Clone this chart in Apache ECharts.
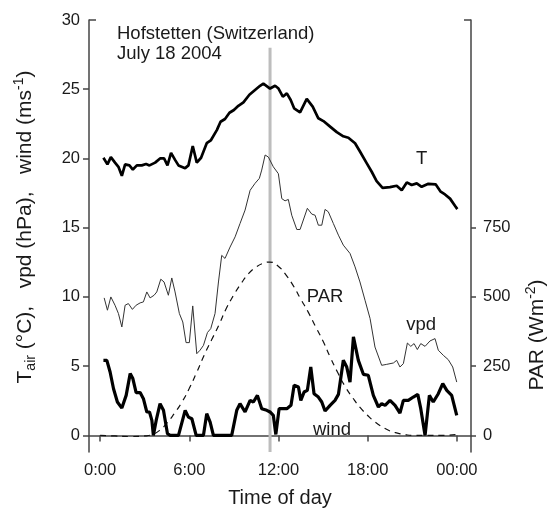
<!DOCTYPE html>
<html>
<head>
<meta charset="utf-8">
<script src="https://cdn.jsdelivr.net/npm/echarts@6/dist/echarts.min.js"></script>
<style>
html,body{margin:0;padding:0;background:#fff;}
#chart{width:551px;height:509px;}
</style>
</head>
<body>
<div id="chart"></div>
<script>
// ---- data (hours of day, values) ----
const tHours = [0.22,0.49,0.72,1.0,1.23,1.46,1.68,1.97,2.2,2.47,2.8,3.09,3.32,3.7,4.03,4.3,4.53,4.77,5.04,5.27,5.72,5.94,6.23,6.5,6.79,7.17,7.44,7.85,8.1,8.4,8.7,9.0,9.3,9.64,10.04,10.42,10.76,10.98,11.43,11.77,12.0,12.29,12.56,12.82,13.05,13.45,13.9,14.3,14.68,15.02,15.47,15.92,16.36,16.7,17.15,17.48,17.94,18.27,18.6,19.0,19.5,19.95,20.29,20.63,20.96,21.3,21.63,22.08,22.57,22.91,23.2,23.54,23.87,24.03];
const tValues = [20.05,19.57,20.1,19.7,19.4,18.75,19.57,19.5,19.2,19.5,19.5,19.6,19.5,19.7,20.0,20.0,19.5,20.4,19.9,19.5,19.3,19.5,20.9,19.7,20.05,21.1,21.3,22.05,22.65,22.85,23.3,23.5,23.8,24.05,24.6,24.95,25.25,25.4,25.05,25.25,25.05,24.46,24.7,24.22,23.62,23.33,24.3,23.74,22.9,22.7,22.3,21.9,21.6,21.5,21.1,20.5,19.65,19.04,18.37,17.88,17.93,18.03,17.7,18.27,18.08,18.2,17.95,18.17,18.13,17.6,17.4,17.1,16.58,16.34];

const vpdHours = [0.27,0.49,0.72,1.0,1.23,1.46,1.68,1.9,2.17,2.42,2.69,2.91,3.14,3.36,3.63,3.81,4.08,4.3,4.59,4.82,5.04,5.33,5.56,5.78,6.0,6.23,6.5,6.72,6.95,7.22,7.44,7.73,7.96,8.18,8.4,8.74,9.08,9.41,9.75,10.09,10.42,10.71,10.87,11.1,11.32,11.65,11.99,12.22,12.44,12.66,12.89,13.23,13.45,13.94,14.24,14.46,14.68,14.91,15.13,15.35,15.69,16.03,16.36,16.81,17.15,17.48,17.82,18.16,18.49,18.94,19.28,19.73,19.95,20.17,20.4,20.67,20.9,21.12,21.34,21.57,21.86,22.19,22.53,22.75,23.09,23.42,23.72,23.99];
const vpdValues = [9.93,9.04,10.0,9.4,8.8,7.83,9.4,9.52,9.1,9.4,9.57,9.64,10.36,9.93,10.12,10.36,11.28,11.08,10.12,11.37,10.36,8.8,8.19,6.7,6.7,9.35,5.9,6.15,6.5,7.43,7.71,8.8,11.08,13.0,12.78,13.6,14.34,15.3,16.27,17.7,18.2,18.56,19.16,20.25,20.1,19.4,18.9,17.1,16.94,17.04,15.9,14.87,14.87,16.4,15.98,15.9,15.18,15.18,16.32,16.15,15.3,14.46,13.74,13.14,12.17,11.08,9.76,8.44,6.38,5.06,5.13,5.23,5.42,4.94,5.18,6.67,6.43,6.63,6.2,6.63,6.43,6.82,6.99,6.15,5.78,5.47,4.94,3.85];

const windHours = [0.22,0.45,0.67,0.9,1.16,1.46,1.75,2.02,2.2,2.42,2.69,2.91,3.14,3.32,3.48,3.58,3.77,4.03,4.26,4.53,4.71,5.27,5.72,5.94,6.17,6.46,6.95,7.17,7.4,7.62,8.85,9.19,9.41,9.75,10.09,10.31,10.58,10.87,11.21,11.43,11.65,11.82,12.04,12.56,12.84,13.05,13.34,13.5,13.72,13.94,14.17,14.39,14.68,14.91,15.13,15.47,15.8,16.03,16.36,16.59,16.81,17.04,17.37,17.71,18.04,18.38,18.72,18.94,19.17,19.5,19.84,20.17,20.4,20.73,21.07,21.37,21.57,21.86,22.15,22.41,22.75,23.05,23.32,23.65,23.99];
const windValues = [5.42,5.42,4.58,3.37,2.41,1.97,2.89,4.46,4.1,3.09,3.09,2.65,1.69,1.69,1.08,0,1.08,2.29,1.81,0.12,0,0,1.81,1.32,1.2,0,0,1.57,0.96,0,0,1.81,2.29,1.69,2.53,2.41,2.89,1.93,1.81,1.69,1.45,0.07,1.93,1.93,2.17,3.62,3.49,2.53,3.13,3.25,4.94,3.01,2.77,2.41,1.76,2.17,2.53,2.96,5.42,4.94,3.85,7.11,5.42,4.41,4.34,2.89,2.05,2.29,2.17,2.53,2.17,1.61,2.53,2.53,2.77,2.96,1.93,0,2.89,2.41,3.01,3.74,3.25,2.89,1.45];

const parHours = [0,1,2,3,3.5,4,4.5,5,5.5,6,6.5,7,7.5,8,8.5,9,9.5,10,10.5,11,11.4,12,12.5,13,13.5,14,14.5,15,15.5,16,16.5,17,17.5,18,18.5,19,19.5,20,20.5,21,22,23,24];
const parValues = [0,-2,-4,-2,3,18,45,80,120,170,228,290,345,400,460,508,550,585,608,622,626,610,580,540,492,445,392,340,280,225,175,135,100,72,48,30,16,8,3,0,0,0,3];

const markerHour = 11.43;          // grey vertical line (time of the measurement)
const markerRange = [-1.2, 28];

const xTickHours = [0, 6, 12, 18, 24];
const xTickLabels = ['0:00', '6:00', '12:00', '18:00', '00:00'];
const leftTicks = [0, 5, 10, 15, 20, 25, 30];
const rightTicks = [0, 250, 500, 750];

const seriesLabels = [
  {text: 'T', at: [21.63, 20.0]},
  {text: 'PAR', at: [15.13, 10.0]},
  {text: 'vpd', at: [21.6, 8.0]},
  {text: 'wind', at: [15.6, 0.4]}
];

function pairs(h, v) { return h.map((x, i) => [x, v[i]]); }

const FONT = "'Liberation Sans', Arial, Helvetica, sans-serif";
const AX = '#444';
const TXT = '#1a1a1a';

const chart = echarts.init(document.getElementById('chart'), null, {renderer: 'canvas'});

const option = {
  animation: false,
  backgroundColor: '#fff',
  textStyle: {fontFamily: FONT},
  title: {
    text: 'Hofstetten (Switzerland)\nJuly 18 2004',
    left: 117, top: 24, padding: 0,
    textStyle: {fontFamily: FONT, fontSize: 18.5, lineHeight: 20, fontWeight: 'normal', color: TXT}
  },
  grid: {left: 89, right: 80, top: 20, bottom: 57, containLabel: false},
  xAxis: {
    type: 'value', min: -0.75, max: 24.95,
    splitLine: {show: false},
    axisLine: {show: true, lineStyle: {color: AX, width: 1.5}},
    axisTick: {show: true, length: 6, lineStyle: {color: AX, width: 1.5}, customValues: xTickHours},
    axisLabel: {
      customValues: xTickHours, margin: 10, fontSize: 16.5, color: TXT, fontFamily: FONT,
      formatter: v => xTickLabels[xTickHours.indexOf(Math.round(v))] || ''
    }
  },
  yAxis: [
    {
      type: 'value', min: -1.2, max: 30, position: 'left',
      splitLine: {show: false},
      axisLine: {show: true, onZero: false, lineStyle: {color: AX, width: 1.5}},
      axisTick: {show: true, length: 6, lineStyle: {color: AX, width: 1.5}, customValues: leftTicks.slice(0, 6)},
      axisLabel: {customValues: leftTicks, margin: 9, fontSize: 16.5, color: TXT, fontFamily: FONT}
    },
    {
      type: 'value', min: -60, max: 1500, position: 'right',
      splitLine: {show: false},
      axisLine: {show: true, onZero: false, lineStyle: {color: AX, width: 1.5}},
      axisTick: {show: true, length: 5, lineStyle: {color: AX, width: 1.5}, customValues: rightTicks},
      axisLabel: {customValues: rightTicks, margin: 12, fontSize: 16.5, color: TXT, fontFamily: FONT}
    }
  ],
  series: [
    {
      name: 'marker', type: 'line', z: 1, symbol: 'none', silent: true,
      data: [[markerHour, markerRange[0]], [markerHour, markerRange[1]]],
      lineStyle: {color: '#bdbdbd', width: 3}
    },
    {
      name: 'PAR', type: 'line', yAxisIndex: 1, smooth: true, symbol: 'none', z: 2,
      data: pairs(parHours, parValues),
      lineStyle: {color: '#111', width: 1.2, type: [6, 5]}
    },
    {
      name: 'vpd', type: 'line', symbol: 'none', z: 3,
      data: pairs(vpdHours, vpdValues),
      lineStyle: {color: '#333', width: 1}
    },
    {
      name: 'T', type: 'line', symbol: 'none', z: 4,
      data: pairs(tHours, tValues),
      lineStyle: {color: '#000', width: 2.7}
    },
    {
      name: 'wind', type: 'line', symbol: 'none', z: 4,
      data: pairs(windHours, windValues),
      lineStyle: {color: '#000', width: 3.2}
    }
  ]
};
chart.setOption(option);

// annotations and decorations placed through the chart's own coordinate conversion
const toPx = (p) => chart.convertToPixel({xAxisIndex: 0, yAxisIndex: 0}, p);
const topLeft = toPx([-0.75, 30]);
const bottomRight = toPx([24.95, -1.2]);
const graphics = [];
seriesLabels.forEach(l => {
  const p = toPx(l.at);
  graphics.push({
    type: 'text', x: p[0], y: p[1], z: 10,
    style: {text: l.text, fontSize: 18.5, fontFamily: FONT, fill: TXT, align: 'center', verticalAlign: 'middle'}
  });
});
// inward caps at the top of both vertical axes
graphics.push({type: 'line', z: 10, shape: {x1: topLeft[0], y1: topLeft[1], x2: topLeft[0] + 7, y2: topLeft[1]}, style: {stroke: AX, lineWidth: 1.5}});
graphics.push({type: 'line', z: 10, shape: {x1: bottomRight[0] - 7, y1: topLeft[1], x2: bottomRight[0], y2: topLeft[1]}, style: {stroke: AX, lineWidth: 1.5}});
// axis titles
graphics.push({
  type: 'text', x: (topLeft[0] + bottomRight[0]) / 2, y: 498, z: 10,
  style: {text: 'Time of day', fontSize: 20, fontFamily: FONT, fill: TXT, align: 'center', verticalAlign: 'middle'}
});
graphics.push({
  type: 'text', x: 25, y: 227, rotation: Math.PI / 2, z: 10,
  style: {
    text: '{a|T}{s|air}{a| (°C),   vpd (hPa),   wind (ms}{p|-1}{a|)}',
    align: 'center', verticalAlign: 'middle', fill: TXT,
    rich: {
      a: {fontSize: 21, fontFamily: FONT, fill: TXT, lineHeight: 26},
      s: {fontSize: 14, fontFamily: FONT, fill: TXT, lineHeight: 14, verticalAlign: 'bottom'},
      p: {fontSize: 14, fontFamily: FONT, fill: TXT, lineHeight: 14, verticalAlign: 'top'}
    }
  }
});
graphics.push({
  type: 'text', x: 537, y: 335, rotation: Math.PI / 2, z: 10,
  style: {
    text: '{a|PAR (Wm}{p|-2}{a|)}',
    align: 'center', verticalAlign: 'middle', fill: TXT,
    rich: {
      a: {fontSize: 21, fontFamily: FONT, fill: TXT, lineHeight: 26},
      p: {fontSize: 14, fontFamily: FONT, fill: TXT, lineHeight: 14, verticalAlign: 'top'}
    }
  }
});
chart.setOption({graphic: graphics});
</script>
</body>
</html>
